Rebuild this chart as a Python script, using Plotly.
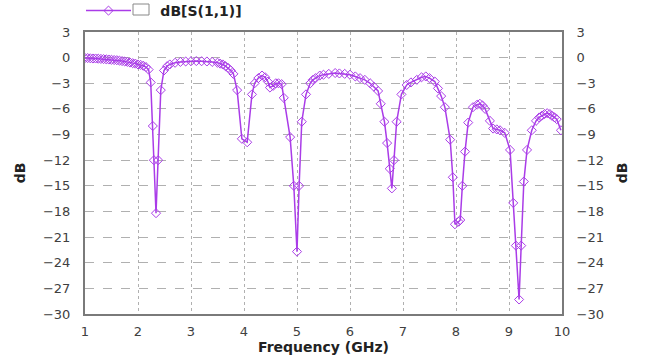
import plotly.graph_objects as go

freq_ghz = [1.0, 1.05, 1.1, 1.15, 1.2, 1.25, 1.3, 1.35, 1.4, 1.45, 1.5, 1.55, 1.6, 1.65, 1.7,
            1.75, 1.8, 1.85, 1.9, 1.95, 2.0, 2.05, 2.1, 2.15, 2.2, 2.24, 2.28, 2.3, 2.34, 2.38,
            2.43, 2.49, 2.55, 2.6, 2.7, 2.8, 2.9, 3.0, 3.1, 3.2, 3.3, 3.4, 3.5, 3.55, 3.6,
            3.65, 3.7, 3.75, 3.8, 3.87, 3.96, 4.06, 4.15, 4.2, 4.27, 4.34, 4.4, 4.45, 4.49,
            4.55, 4.6, 4.65, 4.71, 4.75, 4.87, 4.94, 5.0, 5.04, 5.09, 5.17, 5.25, 5.3, 5.35,
            5.43, 5.5, 5.6, 5.72, 5.8, 5.9, 6.0, 6.1, 6.19, 6.28, 6.38, 6.45, 6.53, 6.58,
            6.65, 6.7, 6.75, 6.79, 6.83, 6.88, 6.97, 7.07, 7.15, 7.26, 7.35, 7.43, 7.5, 7.6,
            7.66, 7.72, 7.79, 7.89, 7.94, 7.98, 8.05, 8.08, 8.12, 8.17, 8.23, 8.32, 8.4, 8.45,
            8.5, 8.55, 8.64, 8.7, 8.77, 8.83, 8.92, 9.02, 9.08, 9.13, 9.19, 9.23, 9.28, 9.34,
            9.43, 9.51, 9.57, 9.62, 9.67, 9.72, 9.77, 9.81, 9.86, 9.9, 9.98]

s11_db = [-0.05, -0.05, -0.08, -0.1, -0.1, -0.12, -0.15, -0.17, -0.2, -0.22, -0.25, -0.28, -0.3, -0.35, -0.4,
          -0.45, -0.5, -0.58, -0.65, -0.7, -0.8, -0.85, -0.95, -1.1, -1.4, -2.9, -8.0, -12.0, -18.2, -12.0,
          -3.8, -1.5, -1.0, -0.8, -0.6, -0.5, -0.45, -0.42, -0.4, -0.42, -0.45, -0.5, -0.6, -0.7, -0.8,
          -1.0, -1.2, -1.5, -1.9, -3.8, -9.5, -9.9, -4.3, -3.0, -2.4, -2.1, -2.3, -2.8, -3.5,
          -3.3, -3.0, -3.0, -3.1, -4.7, -9.3, -15.0, -22.7, -15.0, -7.5, -4.3, -3.0, -2.6, -2.4,
          -2.1, -2.0, -1.9, -1.8, -1.85, -1.9, -2.0, -2.2, -2.4, -2.6, -3.0, -3.4, -3.9, -5.4,
          -7.5, -10.0, -13.0, -15.3, -12.0, -7.5, -4.3, -3.2, -2.9, -2.6, -2.3, -2.2, -2.4, -2.8,
          -3.6, -4.5, -5.8, -9.6, -14.0, -19.5, -19.2, -19.0, -15.0, -11.0, -7.6, -5.8, -5.5, -5.4,
          -5.6, -6.0, -7.4, -8.3, -8.4, -8.5, -8.8, -10.8, -17.0, -22.0, -28.3, -22.0, -14.5, -10.8,
          -8.5, -7.4, -7.0, -6.8, -6.6, -6.5, -6.6, -6.8, -7.0, -7.2, -8.5]

y_ticks = [3, 0, -3, -6, -9, -12, -15, -18, -21, -24, -27, -30]
x_ticks = [1, 2, 3, 4, 5, 6, 7, 8, 9, 10]

line_color = "#aa3ce8"
font_family = "DejaVu Sans, Verdana, sans-serif"
tick_font = dict(family=font_family, size=13, color="#404040")
title_font = dict(family=font_family, size=14, color="#222222")

fig = go.Figure()
fig.add_trace(go.Scatter(
    x=freq_ghz, y=s11_db, mode="lines+markers",
    name="<b>\u00a0\u00a0\u00a0\u00a0\u00a0dB[S(1,1)]</b>",
    line=dict(color=line_color, width=1.5),
    marker=dict(symbol="diamond-open", size=7, color=line_color, line=dict(width=1, color=line_color)),
))
fig.add_trace(go.Scatter(
    x=freq_ghz, y=s11_db, yaxis="y2", mode="lines",
    line=dict(width=0), hoverinfo="skip", showlegend=False, opacity=0,
))

axis_common = dict(
    showline=True, linecolor="#7a7a7a", linewidth=2,
    showgrid=True, gridcolor="#b0b0b0", gridwidth=1,
    ticks="", zeroline=False, tickfont=tick_font, automargin=False,
)

fig.update_layout(
    width=645, height=355,
    margin=dict(l=85, r=83, t=32, b=41, autoexpand=False),
    paper_bgcolor="white", plot_bgcolor="white",
    font=dict(family=font_family, color="#333333"),
    xaxis=dict(range=[1, 10], tickvals=x_ticks, griddash="dot", mirror=True, ticklabelstandoff=4,
               title=dict(text="<b>Frequency (GHz)</b>", font=title_font, standoff=2),
               **axis_common),
    yaxis=dict(range=[-30, 3], tickvals=y_ticks, griddash="dash", ticklabelstandoff=10,
               title=dict(text="<b>dB</b>", font=title_font, standoff=14),
               **axis_common),
    yaxis2=dict(range=[-30, 3], tickvals=y_ticks, overlaying="y", side="right",
                showline=True, linecolor="#7a7a7a", linewidth=2, showgrid=False,
                ticks="", zeroline=False, tickfont=tick_font, automargin=False, ticklabelstandoff=10,
                title=dict(text="<b>dB</b>", font=title_font, standoff=14)),
    showlegend=True,
    legend=dict(x=-4 / 477, y=1 + 21 / 282, xanchor="left", yanchor="middle", orientation="h",
                bgcolor="rgba(0,0,0,0)", font=dict(family=font_family, size=14, color="#222222"),
                itemwidth=45),
    shapes=[dict(type="rect", xref="paper", yref="paper",
                 x0=48 / 477, x1=64 / 477, y0=1 + 17 / 282, y1=1 + 28 / 282,
                 line=dict(color="#888888", width=1), fillcolor="white")],
)

fig.write_html("out.html", config={"displayModeBar": False},
               post_script="document.body.style.margin='0';document.body.style.padding='0';")
